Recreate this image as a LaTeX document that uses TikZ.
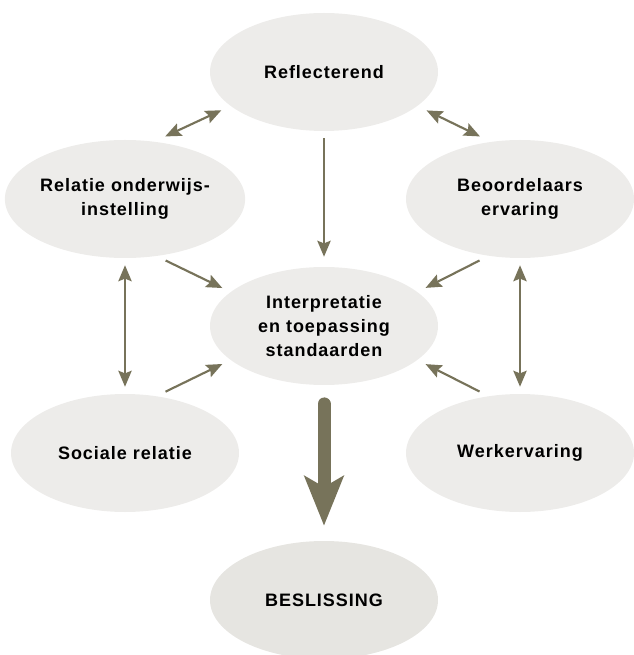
\documentclass[tikz,border=0pt]{standalone}
\usepackage{fontspec}
\setmainfont{Liberation Sans}[LetterSpace=5.5]
\usepackage{tikz}
\usetikzlibrary{shapes.geometric, arrows.meta}

\definecolor{bubblegray}{RGB}{237,236,234}
\definecolor{decisiongray}{RGB}{230,229,225}
\definecolor{arrowolive}{RGB}{119,115,90}

\begin{document}
\begin{tikzpicture}[x=0.75pt, y=-0.75pt,
    >={Stealth[length=12pt, width=10pt, inset=2pt]},
    bubble/.style={ellipse, fill=bubblegray, minimum width=171pt, minimum height=88.5pt,
        inner sep=0pt, align=center, font=\bfseries\fontsize{13.5}{18}\selectfont},
    link/.style={arrowolive, line width=1.6pt},
    bigarrow/.style={arrowolive, line width=9.75pt, line cap=round,
        -{Stealth[length=37pt, width=29pt, inset=8pt]}}]

\useasboundingbox (0,0) rectangle (633,655);

\node[bubble] (refl) at (324,72) {Reflecterend};

\node[bubble] (rel) at (125,199) {Relatie onderwijs-\\instelling};

\node[bubble] (beo) at (520,199) {Beoordelaars\\ervaring};

\node[bubble] (interp) at (324,326) {Interpretatie\\en toepassing\\standaarden};

\node[bubble] (soc) at (125,453) {Sociale relatie};

\node[bubble] (werk) at (520,453) {Werkervaring};

\node[bubble, fill=decisiongray] (besl) at (324,600) {BESLISSING};

% links around the top
\draw[link, <->, shorten <=9pt, shorten >=7.5pt] (rel.63) -- (refl.200);

\draw[link, <->, shorten <=9pt, shorten >=7.5pt] (beo.117) -- (refl.340);

\draw[link, ->, shorten <=5.25pt, shorten >=7.5pt] (refl.south) -- (interp.north);

% side links
\draw[link, <->, shorten <=5.25pt, shorten >=5.25pt] (rel.south) -- (soc.north);

\draw[link, <->, shorten <=5.25pt, shorten >=5.25pt] (beo.south) -- (werk.north);

\draw[link, ->, shorten <=7.5pt, shorten >=6.75pt] (rel.299) -- (interp.160);

\draw[link, ->, shorten <=7.5pt, shorten >=6.75pt] (beo.241) -- (interp.20);

\draw[link, ->, shorten <=7.5pt, shorten >=6.75pt] (soc.61) -- (interp.200);

\draw[link, ->, shorten <=7.5pt, shorten >=6.75pt] (werk.119) -- (interp.340);

\draw[bigarrow, shorten <=14pt, shorten >=11.25pt] (interp.south) -- (besl.north);

\end{tikzpicture}
\end{document}
